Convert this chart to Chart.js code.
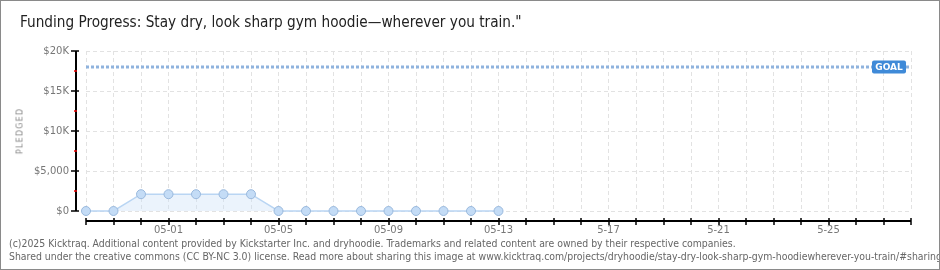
<!DOCTYPE html>
<html>
<head>
<meta charset="utf-8">
<script src="https://cdn.jsdelivr.net/npm/chart.js@4.4.1/dist/chart.umd.min.js"></script>
<style>
  html, body { margin: 0; padding: 0; background: #fff; }
  #wrap { position: relative; width: 940px; height: 270px; box-sizing: border-box; border: 1px solid #8a8a8a; overflow: hidden; }
  #chart { position: absolute; left: 0; top: 0; }
  #title { position: absolute; left: 19px; top: 12px; font: 15.2px "Liberation Sans Narrow", "DejaVu Sans Condensed", sans-serif; color: #222; white-space: nowrap; }
  #ytitle { position: absolute; left: 19px; top: 130px; transform: translate(-50%, -50%) rotate(-90deg); font: 8px "DejaVu Sans", sans-serif; letter-spacing: 1.2px; color: #888; }
  .foot { position: absolute; left: 8px; font: 10.4px "Liberation Sans Narrow", "DejaVu Sans Condensed", sans-serif; color: #666; white-space: nowrap; }
</style>
</head>
<body>
<div id="wrap">
  <canvas id="chart" width="940" height="270"></canvas>
  <div id="title">Funding Progress: Stay dry, look sharp gym hoodie—wherever you train."</div>
  <div id="ytitle">PLEDGED</div>
  <div class="foot" style="top:236px">(c)2025 Kicktraq. Additional content provided by Kickstarter Inc. and dryhoodie. Trademarks and related content are owned by their respective companies.</div>
  <div class="foot" style="top:249px">Shared under the creative commons (CC BY-NC 3.0) license. Read more about sharing this image at www.kicktraq.com/projects/dryhoodie/stay-dry-look-sharp-gym-hoodiewherever-you-train/#sharing</div>
</div>
<script>
// days shown on the x axis (04-28 .. 05-28)
const days = ['04-28','04-29','04-30','05-01','05-02','05-03','05-04','05-05','05-06','05-07',
  '05-08','05-09','05-10','05-11','05-12','05-13','5-14','5-15','5-16','5-17','5-18','5-19',
  '5-20','5-21','5-22','5-23','5-24','5-25','5-26','5-27','5-28'];
const pledged = [0,0,2100,2100,2100,2100,2100,0,0,0,0,0,0,0,0,0];
const goal = 18000;
const yTicks = [0, 5000, 10000, 15000, 20000];
const yTickLabels = ['$0', '$5,000', '$10K', '$15K', '$20K'];

const goalLine = days.map(() => goal);
const tickFont = { family: 'DejaVu Sans', size: 10 };

// black axis lines, tick marks and the GOAL tag
const axesPlugin = {
  id: 'axes',
  afterDatasetsDraw(chart) {
    const { ctx, chartArea: a, scales: { x, y } } = chart;
    ctx.save();
    ctx.strokeStyle = '#000';
    ctx.lineWidth = 2;
    const yx = a.left - 10, xy = a.bottom + 10;
    ctx.beginPath();
    ctx.moveTo(yx, a.top); ctx.lineTo(yx, a.bottom);
    ctx.moveTo(a.left, xy); ctx.lineTo(a.right, xy);
    ctx.stroke();
    ctx.lineWidth = 1.5;
    ctx.beginPath();
    yTicks.forEach(v => { const p = Math.round(y.getPixelForValue(v)); ctx.moveTo(yx - 5, p); ctx.lineTo(yx + 3, p); });
    days.forEach((d, i) => { const p = Math.round(x.getPixelForValue(i)); ctx.moveTo(p, xy - 3); ctx.lineTo(p, xy + 4); });
    ctx.stroke();
    ctx.strokeStyle = '#e00';
    ctx.beginPath();
    for (let i = 0; i < yTicks.length - 1; i++) {
      const p = Math.round(y.getPixelForValue((yTicks[i] + yTicks[i + 1]) / 2));
      ctx.moveTo(yx - 2, p); ctx.lineTo(yx + 1, p);
    }
    ctx.stroke();
    // goal tag
    const gy = y.getPixelForValue(goal);
    const gx = x.getPixelForValue(days.length - 1) - 5;
    ctx.fillStyle = '#3f8ad8';
    ctx.beginPath();
    ctx.roundRect(gx - 34, gy - 6.5, 34, 13, 2);
    ctx.fill();
    ctx.fillStyle = '#fff';
    ctx.font = 'bold 9px "DejaVu Sans"';
    ctx.textAlign = 'center';
    ctx.textBaseline = 'middle';
    ctx.fillText('GOAL', gx - 17, gy + 0.5);
    ctx.restore();
  }
};

new Chart(document.getElementById('chart'), {
  type: 'line',
  data: {
    labels: days,
    datasets: [{
      data: pledged,
      borderColor: '#b9d5f3',
      borderWidth: 1.5,
      backgroundColor: 'rgba(205,225,247,0.4)',
      fill: 'origin',
      tension: 0,
      clip: false,
      pointRadius: 4.5,
      pointBackgroundColor: '#c4dcf6',
      pointBorderColor: '#9ab9dd',
      pointBorderWidth: 1
    }, {
      data: goalLine,
      borderColor: '#8fb3de',
      borderWidth: 3,
      borderDash: [3, 2],
      pointRadius: 0,
      fill: false
    }]
  },
  options: {
    responsive: false,
    animation: false,
    layout: { padding: { left: 0, top: 50, right: 30, bottom: 0 } },
    plugins: { legend: { display: false }, tooltip: { enabled: false } },
    scales: {
      x: {
        offset: false,
        afterFit(s) { s.height = 60; },
        border: { display: false, dash: [4, 3] },
        grid: { color: '#e2e2e2', drawTicks: false },
        ticks: {
          autoSkip: false, maxRotation: 0, padding: 13, color: '#777', font: tickFont,
          callback: (v, i) => (i % 4 === 3 ? days[i] : '')
        }
      },
      y: {
        min: 0, max: 20000,
        afterFit(s) { s.width = 85; },
        afterBuildTicks(s) { s.ticks = yTicks.map(v => ({ value: v })); },
        border: { display: false, dash: [4, 3] },
        grid: { color: '#e2e2e2', drawTicks: false },
        ticks: {
          padding: 17, color: '#777', font: tickFont,
          callback: v => yTickLabels[yTicks.indexOf(v)]
        }
      }
    }
  },
  plugins: [axesPlugin]
});
</script>
</body>
</html>
